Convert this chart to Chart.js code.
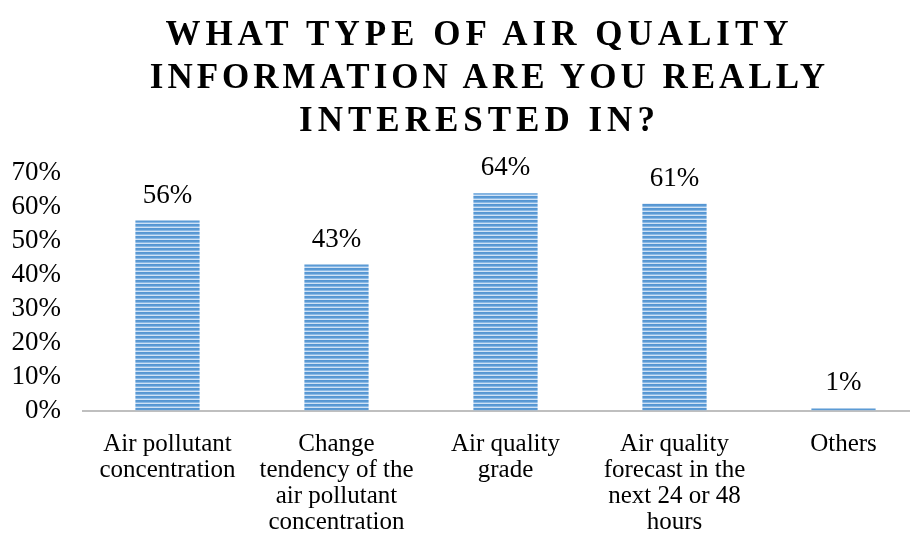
<!DOCTYPE html>
<html>
<head>
<meta charset="utf-8">
<script src="https://cdn.jsdelivr.net/npm/chart.js@4"></script>
<style>
  html, body { margin: 0; padding: 0; background: #fff; }
  #wrap { position: relative; width: 910px; height: 544px; overflow: hidden; }
  #title {
    position: absolute; top: 12px; left: 0; width: 954px;
    text-align: center; padding-left: 5px; box-sizing: border-box;
    font-family: "Liberation Serif", "Times New Roman", serif;
    font-weight: bold; font-size: 35px; line-height: 43px;
    letter-spacing: 5px; color: #000;
  }
  #title .narrow { letter-spacing: 4px; position: relative; left: 10px; }
  #chart { position: absolute; top: 0; left: 0; }
</style>
</head>
<body>
<div id="wrap">
  <canvas id="chart" width="930" height="544"></canvas>
  <div id="title">WHAT TYPE OF AIR QUALITY<br><span class="narrow">INFORMATION ARE YOU REALLY</span><br>INTERESTED IN?</div>
</div>
<script>
// ------------------
// data
// ------------------
const categories = [
  ["Air pollutant", "concentration"],
  ["Change", "tendency of the", "air pollutant", "concentration"],
  ["Air quality", "grade"],
  ["Air quality", "forecast in the", "next 24 or 48", "hours"],
  ["Others"]
];
// percent of respondents (Others is under 1%, shown rounded)
const shares = [56, 43, 64, 61, 0.6];
const yTicks = [0, 10, 20, 30, 40, 50, 60, 70];

const serif = "'Liberation Serif', 'Times New Roman', serif";

// striped blue fill like the original
function stripePattern() {
  const c = document.createElement("canvas");
  c.width = 1;
  c.height = 4;
  const g = c.getContext("2d");
  const rows = ["#5595d2", "#5b9bd5", "#8ab8e5", "#cfe2f5"];
  rows.forEach((col, i) => {
    g.fillStyle = col;
    g.fillRect(0, i, 1, 1);
  });
  return g.createPattern(c, "repeat");
}

// value labels above bars
const valueLabels = {
  id: "valueLabels",
  afterDatasetsDraw(chart) {
    const ctx = chart.ctx;
    const meta = chart.getDatasetMeta(0);
    ctx.save();
    ctx.font = "27px " + serif;
    ctx.fillStyle = "#000";
    ctx.textAlign = "center";
    ctx.textBaseline = "alphabetic";
    meta.data.forEach((bar, i) => {
      ctx.fillText(Math.round(shares[i]) + "%", bar.x, bar.y - 18);
    });
    ctx.restore();
  }
};

window.onload = () => {
  const ctx = document.getElementById("chart");
  new Chart(ctx, {
    type: "bar",
    data: {
      labels: categories,
      datasets: [{
        data: shares,
        backgroundColor: stripePattern(),
        categoryPercentage: 1,
        barPercentage: 0.38
      }]
    },
    options: {
      responsive: false,
      animation: false,
      layout: { padding: { top: 173, right: 2, bottom: 0, left: 0 } },
      plugins: {
        legend: { display: false },
        title: { display: false },
        tooltip: { enabled: false }
      },
      scales: {
        x: {
          afterFit: s => { s.height = 133.5; },
          grid: { display: false },
          border: { display: true, color: "#bfbfbf", width: 2 },
          ticks: {
            autoSkip: false,
            maxRotation: 0,
            padding: 13,
            color: "#000",
            font: { family: serif, size: 25, lineHeight: 1.04 }
          }
        },
        y: {
          min: 0,
          max: 70,
          afterFit: s => { s.width = 83; },
          afterBuildTicks: s => { s.ticks = yTicks.map(v => ({ value: v })); },
          grid: { display: false },
          border: { display: false },
          ticks: {
            autoSkip: false,
            padding: 14,
            color: "#000",
            font: { family: serif, size: 27 },
            callback: v => v + "%"
          }
        }
      }
    },
    plugins: [valueLabels]
  });
};
</script>
</body>
</html>
